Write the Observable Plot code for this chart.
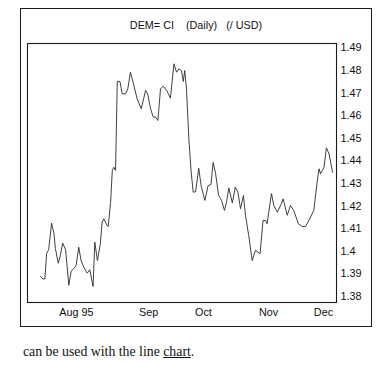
<!DOCTYPE html>
<html>
<head>
<meta charset="utf-8">
<script src="https://cdn.jsdelivr.net/npm/d3@7"></script>
<script src="https://cdn.jsdelivr.net/npm/@observablehq/plot@0.6"></script>
<style>
  html, body { margin: 0; padding: 0; background: #fff; }
  body { width: 378px; height: 365px; position: relative; overflow: hidden; font-family: "Liberation Sans", Arial, sans-serif; color: #111; }
  #outer { position: absolute; left: 20px; top: 8px; width: 352px; height: 319px; border: 1.5px solid #1a1a1a; box-sizing: border-box; }
  #chart { position: absolute; left: 0; top: 0; }
  #title { position: absolute; left: 20px; width: 352px; top: 19px; text-align: center; font-size: 10.8px; line-height: 12px; color: #111; }
  #title span { display: inline-block; }
  #caption { position: absolute; left: 23px; top: 344px; font-family: "Liberation Serif", "Times New Roman", serif; font-size: 13.8px; color: #111; }
  #caption u { text-decoration: underline; }
</style>
</head>
<body>
<div id="outer"></div>
<div id="chart"></div>
<div id="title"><span>DEM= CI</span><span style="margin-left:12px">(Daily)</span><span style="margin-left:9px">(/ USD)</span></div>
<div id="caption">can be used with the line <u>chart</u>.</div>
<script>
// trading-day index (position along the time axis)
const days = [0,0.8,1.5,2.1,2.8,3.8,4.6,5.1,6.1,6.8,7.6,8.6,9.7,10.5,11.4,12.2,13.1,13.9,14.8,16.0,16.9,18.0,18.6,19.5,20.5,21.1,21.7,22.8,23.2,24.0,24.6,25.1,25.7,26.3,27.2,28.0,29.1,29.9,30.8,31.7,33.1,34.5,36.0,36.7,37.7,38.6,39.4,40.2,41.1,42.0,43.2,44.5,45.7,46.6,47.4,48.3,48.9,49.4,50.0,50.8,51.6,52.3,53.1,54.2,55.0,56.3,57.4,58.4,59.1,59.9,61.0,62.0,63.0,63.7,64.5,65.7,66.7,67.6,68.5,69.5,70.2,71.3,72.5,73.6,75.2,76.2,77.1,77.6,79.1,79.9,81.1,82.5,83.1,84.5,85.6,86.7,88.3,89.6,90.8,91.9,93.6,94.8,95.4,95.9,97.1,97.9,98.8,100.0];
// DEM per USD
const rates = [1.3889,1.3877,1.3878,1.3990,1.4007,1.4124,1.4079,1.4012,1.3947,1.3981,1.4036,1.4007,1.3849,1.3912,1.3923,1.3937,1.4018,1.3959,1.3930,1.3903,1.3918,1.3844,1.4040,1.3959,1.4033,1.4129,1.4144,1.4114,1.4110,1.4216,1.4358,1.4372,1.4358,1.4752,1.4752,1.4697,1.4697,1.4719,1.4793,1.4749,1.4675,1.4631,1.4712,1.4697,1.4631,1.4594,1.4594,1.4579,1.4719,1.4731,1.4712,1.4678,1.4830,1.4793,1.4808,1.4800,1.4752,1.4800,1.4719,1.4498,1.4350,1.4262,1.4263,1.4367,1.4291,1.4225,1.4290,1.4296,1.4393,1.4350,1.4247,1.4225,1.4181,1.4217,1.4280,1.4214,1.4284,1.4262,1.4188,1.4247,1.4159,1.4070,1.3959,1.4004,1.3989,1.4136,1.4136,1.4122,1.4255,1.4203,1.4173,1.4210,1.4232,1.4159,1.4203,1.4181,1.4122,1.4110,1.4110,1.4136,1.4181,1.4313,1.4365,1.4343,1.4372,1.4458,1.4432,1.4350];
// axis ticks
const xTickDays = [12.3, 37.0, 55.8, 78.1, 96.9];
const xTickLabels = ["Aug 95", "Sep", "Oct", "Nov", "Dec"];
const yTicks = [1.38,1.39,1.40,1.41,1.42,1.43,1.44,1.45,1.46,1.47,1.48,1.49];

const data = days.map((d, i) => ({day: d, rate: rates[i]}));
const xLabelMap = new Map(xTickDays.map((d, i) => [d, xTickLabels[i]]));

const chart = Plot.plot({
  width: 378,
  height: 330,
  marginLeft: 27,
  marginRight: 42,
  marginTop: 43,
  marginBottom: 28,
  style: {fontFamily: "'Liberation Sans', Arial, sans-serif", fontSize: "10.5px", color: "#111", background: "transparent"},
  x: {type: "linear", domain: [-4.45, 101.37]},
  y: {domain: [1.3773, 1.492]},
  marks: [
    Plot.frame({stroke: "#1a1a1a", strokeWidth: 1.1}),
    Plot.axisY({anchor: "right", ticks: yTicks, tickSize: 0, tickPadding: 4, tickFormat: d => String(+d.toFixed(2)), label: null, fontSize: 10.8}),
    Plot.axisX({ticks: xTickDays, tickSize: 0, tickPadding: 6, tickFormat: d => xLabelMap.get(d), label: null, fontSize: 10.8}),
    Plot.line(data, {x: "day", y: "rate", stroke: "#2a2a2a", strokeWidth: 0.9})
  ]
});
document.getElementById("chart").appendChild(chart);
</script>
</body>
</html>
